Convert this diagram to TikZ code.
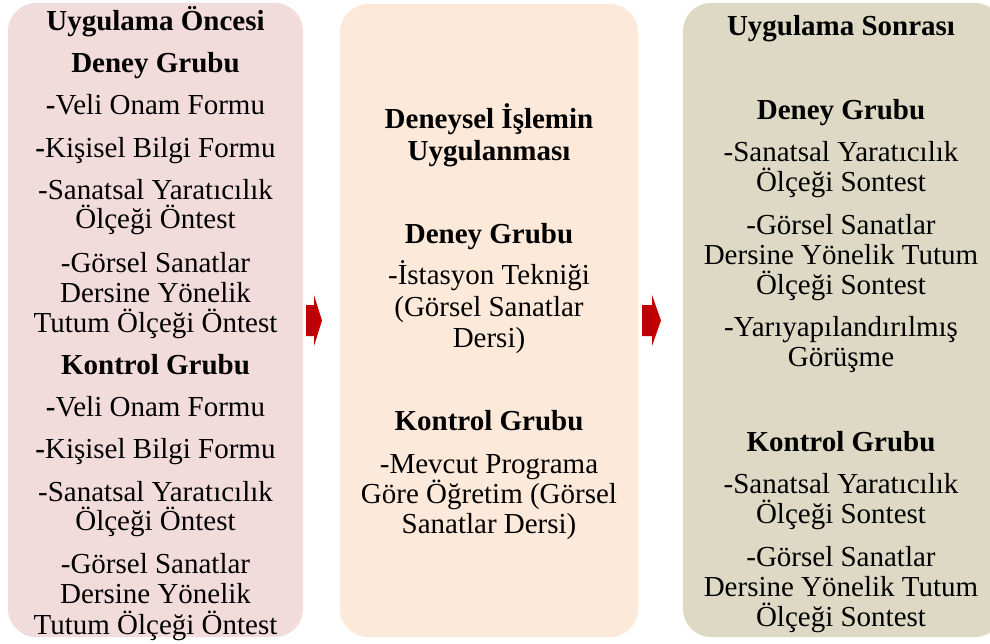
\documentclass[tikz,border=0pt]{standalone}
\usepackage{fontspec}
\setmainfont{Liberation Serif}
\definecolor{boxpink}{HTML}{F2DCDB}
\definecolor{boxpeach}{HTML}{FDE9D9}
\definecolor{boxolive}{HTML}{DDD9C4}
\definecolor{arrowred}{HTML}{C00000}
\tikzset{
  panel/.style={draw=none, rounded corners=28pt, inner sep=0pt},
  txt/.style={font=\fontsize{29}{30}\selectfont, anchor=base, inner sep=0pt, text=black},
  blockarrow/.style={fill=arrowred, draw=none}
}
\begin{document}
\begin{tikzpicture}[x=1pt,y=-1pt]
\clip (0,0) rectangle (990,643);
\fill[white] (0,0) rectangle (990,643);
% panels
\node[panel, fill=boxpink, minimum width=295pt, minimum height=634pt] (pre) at (155.5,320) {};
\node[panel, fill=boxpeach, minimum width=298pt, minimum height=633pt] (mid) at (489,320.5) {};
\node[panel, fill=boxolive, minimum width=320pt, minimum height=634pt] (post) at (843,320) {};
% arrows
\coordinate (a1) at (306,320.5);
\coordinate (a2) at (642,320.5);
\fill[blockarrow] (a1) ++(0,-15.5) -- ++(8,0) -- ++(0,-10) -- (a1 -| 322,0) -- ++(-8,25.5) -- ++(0,-10) -- ++(-8,0) -- cycle;
\fill[blockarrow] (a2) ++(0,-15.5) -- ++(10,0) -- ++(0,-10) -- (a2 -| 661,0) -- ++(-9,25.5) -- ++(0,-10) -- ++(-10,0) -- cycle;
% left texts
\foreach \y/\t [count=\i] in {
  20/{\bfseries Uygulama Öncesi},
  62/{\bfseries Deney Grubu},
  104/{\textbf{-}Veli Onam Formu},
  147/{\textbf{-}Kişisel Bilgi Formu},
  189/{-Sanatsal Yaratıcılık},
  218/{Ölçeği Öntest},
  262/{-Görsel Sanatlar},
  292/{Dersine Yönelik},
  322/{Tutum Ölçeği Öntest},
  364/{\bfseries Kontrol Grubu},
  406/{\textbf{-}Veli Onam Formu},
  448/{\textbf{-}Kişisel Bilgi Formu},
  491/{-Sanatsal Yaratıcılık},
  520/{Ölçeği Öntest},
  563/{-Görsel Sanatlar},
  593/{Dersine Yönelik},
  624/{Tutum Ölçeği Öntest}}
  \node[txt] (L\i) at (155.5,\y+10) {\t};
% middle texts
\foreach \y/\t [count=\i] in {
  118/{\bfseries Deneysel İşlemin},
  150/{\bfseries Uygulanması},
  233/{\bfseries Deney Grubu},
  274/{-İstasyon Tekniği},
  306/{(Görsel Sanatlar},
  337/{Dersi)},
  420/{\bfseries Kontrol Grubu},
  463/{-Mevcut Programa},
  493/{Göre Öğretim (Görsel},
  523/{Sanatlar Dersi)}}
  \node[txt] (M\i) at (489,\y+10) {\t};
% right texts
\foreach \y/\t [count=\i] in {
  25/{\bfseries Uygulama Sonrası},
  109/{\bfseries Deney Grubu},
  151/{-Sanatsal Yaratıcılık},
  181/{Ölçeği Sontest},
  224/{-Görsel Sanatlar},
  254/{Dersine Yönelik Tutum},
  284/{Ölçeği Sontest},
  326/{-Yarıyapılandırılmış},
  356/{Görüşme},
  441/{\bfseries Kontrol Grubu},
  483/{-Sanatsal Yaratıcılık},
  513/{Ölçeği Sontest},
  556/{-Görsel Sanatlar},
  586/{Dersine Yönelik Tutum},
  616/{Ölçeği Sontest}}
  \node[txt] (R\i) at (841,\y+10) {\t};
\end{tikzpicture}
\end{document}
